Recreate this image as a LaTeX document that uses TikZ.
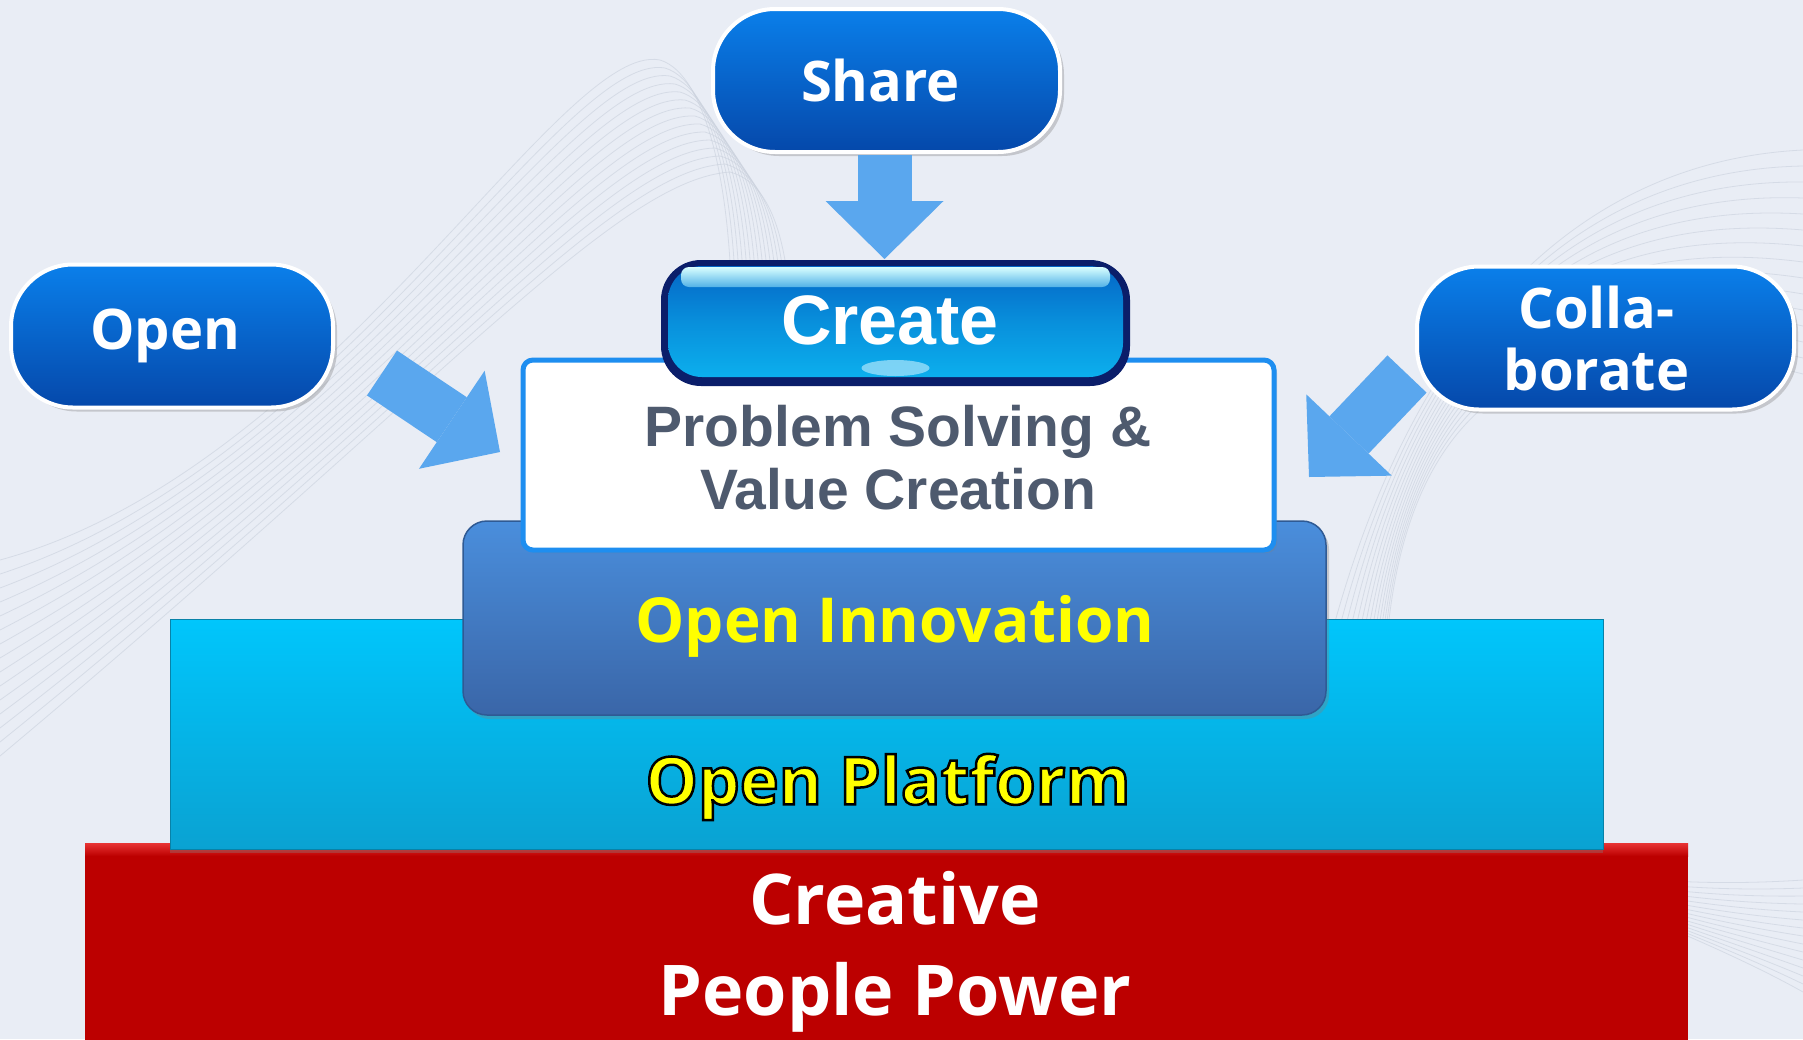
\documentclass[tikz,border=0pt]{standalone}
\usepackage{fontspec}
\setmainfont{Liberation Sans}
\newfontfamily\roundsans{Open Sans}
\usetikzlibrary{arrows.meta,shadows}

\definecolor{bgblue}{HTML}{E9EDF5}
\definecolor{meshgray}{HTML}{C9D0DC}
\definecolor{pilltop}{HTML}{0A7FEA}
\definecolor{pillbot}{HTML}{0548AA}
\definecolor{arrowblue}{HTML}{5AA7EE}
\definecolor{createnavy}{HTML}{0B1E6A}
\definecolor{createtop}{HTML}{0462C4}
\definecolor{createmid}{HTML}{0890DC}
\definecolor{createbot}{HTML}{0CB4F0}
\definecolor{boxblue}{HTML}{1E8EF0}
\definecolor{solvegray}{HTML}{4E5A6E}
\definecolor{innotop}{HTML}{4A8EDC}
\definecolor{innobot}{HTML}{3A66A8}
\definecolor{innoedge}{HTML}{2F5A94}
\definecolor{plattop}{HTML}{00C6FC}
\definecolor{platbot}{HTML}{0AA2D2}
\definecolor{redbase}{HTML}{BC0000}
\definecolor{redtop}{HTML}{E83434}
\definecolor{textyellow}{HTML}{FFFF00}

\newcommand{\outlined}[1]{\special{pdf:literal direct 2 Tr 2.5 w 0 G}#1\special{pdf:literal direct 0 Tr}}

\tikzset{
  pill/.style={draw=white, line width=4pt, rounded corners=62pt,
    minimum height=143pt, top color=pilltop, bottom color=pillbot,
    text=white, align=center,
    font=\roundsans\bfseries\fontsize{56}{62}\selectfont,
    drop shadow={shadow xshift=4pt, shadow yshift=-4pt, opacity=.35}},
  blockarrow/.style={arrowblue, line width=54pt,
    -{Triangle[width=118pt, length=58pt, line width=0pt]}},
  createbtn/.style={fill=createnavy, rounded corners=40pt,
    minimum width=469pt, minimum height=126pt, text=white,
    font=\bfseries\fontsize{70}{70}\selectfont,
    path picture={
      \shade[rounded corners=34pt, top color=createtop, bottom color=createbot,
        middle color=createmid]
        ([shift={(7pt,-6pt)}]path picture bounding box.north west) rectangle
        ([shift={(-7pt,9pt)}]path picture bounding box.south east);
      \shade[rounded corners=8pt, top color=white!85!cyan, bottom color=createmid!70!white]
        ([shift={(20pt,-7pt)}]path picture bounding box.north west) rectangle
        ([shift={(-20pt,-27pt)}]path picture bounding box.north east);
      \fill[cyan!40!white, opacity=.8]
        ([yshift=18pt]path picture bounding box.south) ellipse [x radius=34pt, y radius=8pt];
    }},
  solvebox/.style={fill=white, draw=boxblue, line width=5pt, rounded corners=10pt,
    minimum width=751pt, minimum height=190pt,
    drop shadow={shadow xshift=3pt, shadow yshift=-3pt, opacity=.3}},
  innobox/.style={top color=innotop, bottom color=innobot, draw=innoedge,
    line width=1.5pt, rounded corners=24pt,
    minimum width=863pt, minimum height=194pt,
    drop shadow={shadow xshift=3pt, shadow yshift=-4pt, opacity=.35}},
  platbox/.style={top color=plattop, bottom color=platbot, draw=platbot!80!black,
    line width=1pt, minimum width=1433pt, minimum height=230pt,
    drop shadow={shadow xshift=0pt, shadow yshift=-4pt, opacity=.35}},
  layertext/.style={font=\roundsans\bfseries\fontsize{62}{62}\selectfont},
  meshline/.style={meshgray, line width=.8pt, opacity=.6}
}

\begin{document}
\begin{tikzpicture}[x=1pt, y=-1pt]
  \useasboundingbox (0,0) rectangle (1803,1039);
  \fill[bgblue] (0,0) rectangle (1803,1039);

  % faint mesh in the background
  \foreach \k in {0,...,14} {
    \draw[meshline] (0,{560+14*\k}) .. controls ({330+8*\k},{470-6*\k}) and ({560+4*\k},{40+10*\k}) .. ({660+5*\k},{60+8*\k})
      .. controls ({760+6*\k},{90+8*\k}) and ({780},{600}) .. ({560+10*\k},1039);
    \draw[meshline] (1803,{150+16*\k}) .. controls ({1600-6*\k},{160+10*\k}) and ({1420-4*\k},{300+8*\k}) .. ({1330+4*\k},{640+10*\k})
      .. controls ({1300},{800}) and ({1500+10*\k},{900}) .. (1803,{880+8*\k});
  }

  % layers, from the bottom up
  \fill[redbase] (85,843) rectangle (1688,1045);
  \shade[top color=redtop, bottom color=redbase] (85,843) rectangle (1688,856);
  \node[platbox] (platform) at (886.5,734) {};
  \node[innobox] (innovation) at (894.5,618) {};
  \node[solvebox] (solve) at (898.5,455) {};
  \node[createbtn] (create) at (895.5,323) {};

  % labels
  \node[text=white, align=center, font=\roundsans\bfseries\fontsize{70}{91}\selectfont] (people) at (895,952) {Creative\\People Power};
  \node[layertext, font=\roundsans\bfseries\fontsize{66}{66}\selectfont, text=textyellow] (platlbl) at (888,787) {\outlined{Open Platform}};
  \node[layertext, text=textyellow] (innolbl) at (895,626) {Open Innovation};
  \node[text=solvegray, align=center, font=\bfseries\fontsize{57}{63}\selectfont] (solvelbl) at (898,458) {Problem Solving \&\\Value Creation};
  \node[text=white, font=\bfseries\fontsize{70}{70}\selectfont] (createlbl) at (890,320) {Create};

  % outer actions
  \node[pill, minimum width=347pt] (share) at (886.5,80.5) {\hspace*{-12pt}Share};
  \node[pill, minimum width=322pt] (open) at (172,336) {\hspace*{-14pt}Open};
  \node[pill, minimum width=377pt] (collab) at (1605.5,338) {\hspace*{-18pt}Colla-\\\hspace*{-18pt}borate};

  \coordinate (sharetail) at (884.5,155);
  \coordinate (sharetip) at (884.5,259);
  \coordinate (opentail) at (382,373);
  \coordinate (opentip) at (500,452);
  \coordinate (collabtail) at (1407,374);
  \coordinate (collabtip) at (1309,477);
  \draw[blockarrow] (sharetail) -- (sharetip);
  \draw[blockarrow] (opentail) -- (opentip);
  \draw[blockarrow] (collabtail) -- (collabtip);
\end{tikzpicture}
\end{document}
